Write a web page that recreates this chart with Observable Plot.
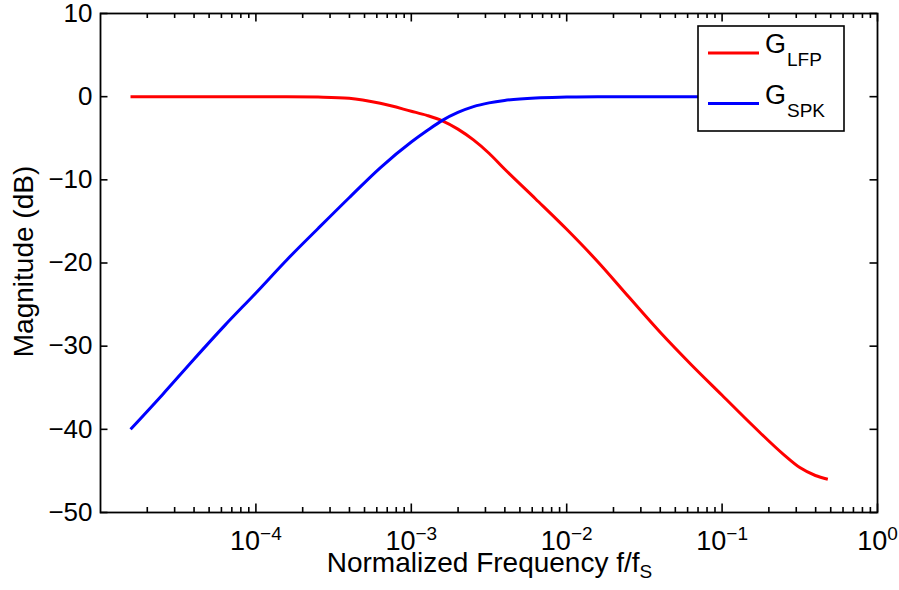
<!DOCTYPE html>
<html><head><meta charset="utf-8">
<script src="https://cdn.jsdelivr.net/npm/d3@7"></script>
<script src="https://cdn.jsdelivr.net/npm/@observablehq/plot@0.6"></script>
<style>
body{margin:0;background:#fff;}
#chart{width:899px;height:590px;}
svg{font-family:"Liberation Sans",Arial,Helvetica,sans-serif;}
</style></head><body><div id="chart"></div>
<script>
// ---- data ----
const seriesNames = ["LFP", "SPK"];
const seriesColors = ["#ff0000", "#0000ff"];
const lfpFreq = [1.56e-5, 1e-4, 1.585e-4, 2.512e-4, 3.981e-4, 6.31e-4, 1e-3, 1.259e-3, 1.585e-3, 1.995e-3, 2.512e-3, 3.162e-3, 3.981e-3, 6.31e-3, 1e-2, 1.585e-2, 2.512e-2, 3.981e-2, 6.31e-2, 0.1, 0.1585, 0.2512, 0.3162, 0.3981, 0.479];
const lfpDb   = [0, 0, 0, -0.05, -0.2, -0.8, -1.75, -2.25, -2.9, -3.9, -5.2, -6.8, -8.7, -12.3, -15.95, -19.85, -24.1, -28.3, -32.2, -35.9, -39.6, -43.1, -44.6, -45.55, -46.0];
const spkFreq = [1.56e-5, 2.512e-5, 3.981e-5, 6.31e-5, 1e-4, 1.585e-4, 2.512e-4, 3.981e-4, 6.31e-4, 1e-3, 1.259e-3, 1.585e-3, 1.995e-3, 2.512e-3, 3.162e-3, 3.981e-3, 6.31e-3, 1e-2, 1.585e-2, 0.479];
const spkDb   = [-40, -35.8, -31.6, -27.5, -23.6, -19.6, -15.85, -12.15, -8.55, -5.45, -4.1, -2.85, -1.9, -1.2, -0.75, -0.45, -0.15, -0.05, 0, 0];
const xMajorTicks = [1e-4, 1e-3, 1e-2, 1e-1, 1];
const xMinorTicks = [-5, -4, -3, -2, -1].flatMap(e => [2,3,4,5,6,7,8,9].map(m => m * Math.pow(10, e)));
const yTicks = [-50, -40, -30, -20, -10, 0, 10];
const xTitle = "Normalized Frequency f/f";
const xTitleSub = "S";
const yTitle = "Magnitude (dB)";

const lfp = lfpFreq.map((f, i) => ({f, db: lfpDb[i]}));
const spk = spkFreq.map((f, i) => ({f, db: spkDb[i]}));

const W = 899, H = 590, mL = 100, mR = 22, mT = 13, mB = 78;
const PW = W - mL - mR, PH = H - mT - mB;   // plot frame size
const tw = 1.6;                               // tick stroke width
const inward = (len) => ({
  bottomX: {insetTop: PH - len}, topX: {insetBottom: PH - len},
  leftY: {insetRight: PW - len}, rightY: {insetLeft: PW - len}
});
const maj = inward(8.5), minr = inward(5), ymaj = inward(7.5);
const tickOpts = {stroke: "black", strokeWidth: tw};

const plot = Plot.plot({
  width: W, height: H,
  marginLeft: mL, marginRight: mR, marginTop: mT, marginBottom: mB,
  style: {fontFamily: '"Liberation Sans", Arial, Helvetica, sans-serif', color: "black", background: "white", overflow: "visible"},
  x: {type: "log", domain: [1e-5, 1]},
  y: {domain: [-50, 10]},
  marks: [
    Plot.line(lfp, {x: "f", y: "db", stroke: seriesColors[0], strokeWidth: 3, curve: "monotone-x", strokeLinecap: "butt"}),
    Plot.line(spk, {x: "f", y: "db", stroke: seriesColors[1], strokeWidth: 3, curve: "monotone-x", strokeLinecap: "butt"}),
    // inward ticks (MATLAB style) on all four sides
    Plot.tickX(xMinorTicks, {x: d => d, ...tickOpts, ...minr.bottomX}),
    Plot.tickX(xMinorTicks, {x: d => d, ...tickOpts, ...minr.topX}),
    Plot.tickX(xMajorTicks, {x: d => d, ...tickOpts, ...maj.bottomX}),
    Plot.tickX(xMajorTicks, {x: d => d, ...tickOpts, ...maj.topX}),
    Plot.tickY(yTicks, {y: d => d, ...tickOpts, ...ymaj.leftY}),
    Plot.tickY(yTicks, {y: d => d, ...tickOpts, ...ymaj.rightY}),
    Plot.frame({stroke: "black", strokeWidth: 1.8}),
    // tick labels
    Plot.axisX(xMajorTicks, {anchor: "bottom", tickSize: 0, tickPadding: 18, fontSize: 27, label: null,
      tickFormat: d => "10^" + Math.round(Math.log10(d))}),
    Plot.axisY(yTicks, {anchor: "left", tickSize: 0, tickPadding: 8, fontSize: 26, label: null,
      tickFormat: d => d < 0 ? "\u2212" + (-d) : String(d)})
  ]
});
document.getElementById("chart").appendChild(plot);

const svg = d3.select(plot);
// superscript exponents on the x tick labels
svg.selectAll('g[aria-label="x-axis tick label"] text').each(function () {
  const t = this.textContent;
  if (!t.includes("^")) return;
  const [base, exp] = t.split("^");
  const e = +exp;
  const sel = d3.select(this);
  sel.text(null);
  sel.append("tspan").text(base);
  sel.append("tspan").attr("font-size", 19).attr("dy", -10).text(e < 0 ? "\u2212" + (-e) : String(e));
});

// axis titles
const cx = (mL + (W - mR)) / 2;
const xt = svg.append("text").attr("x", cx + 1).attr("y", 572).attr("text-anchor", "middle")
  .attr("font-size", 28).attr("fill", "black");
xt.append("tspan").text(xTitle);
xt.append("tspan").attr("font-size", 19).attr("dy", 6).text(xTitleSub);

svg.append("text").attr("transform", `translate(33,261.5) rotate(-90)`)
  .attr("text-anchor", "middle").attr("font-size", 28).attr("fill", "black").text(yTitle);

// legend
const lg = svg.append("g");
lg.append("rect").attr("x", 698).attr("y", 26).attr("width", 146).attr("height", 105)
  .attr("fill", "white").attr("stroke", "black").attr("stroke-width", 1.6);
seriesNames.forEach((name, i) => {
  const yy = 53 + i * 50.5;
  lg.append("line").attr("x1", 708).attr("x2", 759).attr("y1", yy).attr("y2", yy)
    .attr("stroke", seriesColors[i]).attr("stroke-width", 3);
  const t = lg.append("text").attr("x", 765).attr("y", yy).attr("text-anchor", "start")
    .attr("font-size", 27).attr("fill", "black");
  t.append("tspan").text("G");
  t.append("tspan").attr("font-size", 19).attr("dy", 13).attr("dx", 1).text(name);
});
</script></body></html>
